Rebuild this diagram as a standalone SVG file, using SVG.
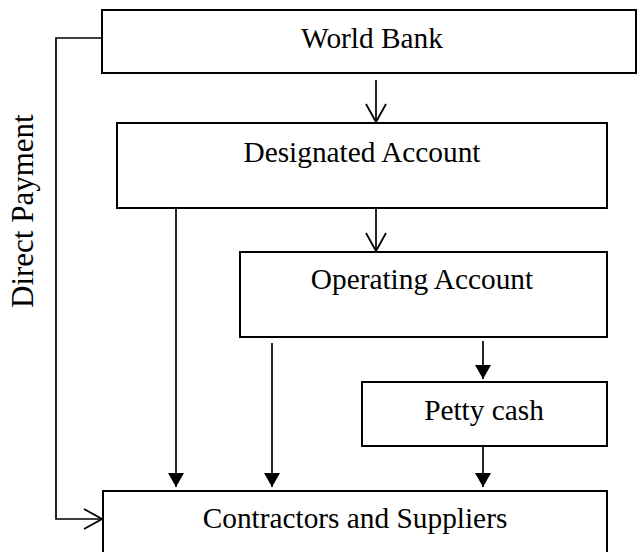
<svg xmlns="http://www.w3.org/2000/svg" width="638" height="552" viewBox="0 0 638 552">
<style>
  .box{fill:#fff;stroke:#000;stroke-width:2}
  .lbl{font-family:"Liberation Serif","Times New Roman",serif;font-size:29.33px;fill:#000}
  .edge{fill:none;stroke:#000;stroke-width:1.7}
</style>
<defs>
  <marker id="open" markerUnits="userSpaceOnUse" viewBox="0 0 20 22" refX="19" refY="11" markerWidth="20" markerHeight="22" orient="auto">
    <path d="M1,1 L19,11 L1,21" fill="none" stroke="#000" stroke-width="1.8"/>
  </marker>
  <marker id="solid" markerUnits="userSpaceOnUse" viewBox="0 0 14 16" refX="14" refY="8" markerWidth="14" markerHeight="16" orient="auto">
    <path d="M0,0 L14,8 L0,16 Z" fill="#000"/>
  </marker>
</defs>
<rect width="638" height="552" fill="#fff"/>
<g id="connectors">
  <line class="edge" x1="376" y1="80" x2="376" y2="122" marker-end="url(#open)"/>
  <line class="edge" x1="376" y1="208" x2="376" y2="251" marker-end="url(#open)"/>
  <line class="edge" x1="176" y1="208" x2="176" y2="487" marker-end="url(#solid)"/>
  <line class="edge" x1="272" y1="343" x2="272" y2="487" marker-end="url(#solid)"/>
  <line class="edge" x1="483" y1="341" x2="483" y2="379" marker-end="url(#solid)"/>
  <line class="edge" x1="483" y1="446" x2="483" y2="487" marker-end="url(#solid)"/>
  <polyline class="edge" points="102,38 56,38 56,519 102,519" marker-end="url(#open)"/>
  <text class="lbl" font-size="31" transform="translate(33,308) rotate(-90)" style="font-size:31px">Direct Payment</text>
</g>
<g id="world-bank">
  <rect class="box" x="102" y="10" width="534" height="63"/>
  <text class="lbl" x="372" y="48" text-anchor="middle">World Bank</text>
</g>
<g id="designated-account">
  <rect class="box" x="117" y="123" width="490" height="85"/>
  <text class="lbl" x="362" y="162" text-anchor="middle">Designated Account</text>
</g>
<g id="operating-account">
  <rect class="box" x="240" y="252" width="367" height="85"/>
  <text class="lbl" x="422" y="289" text-anchor="middle">Operating Account</text>
</g>
<g id="petty-cash">
  <rect class="box" x="362" y="382" width="245" height="64"/>
  <text class="lbl" x="484" y="420" text-anchor="middle">Petty cash</text>
</g>
<g id="contractors-suppliers">
  <rect class="box" x="103" y="491" width="504" height="70"/>
  <text class="lbl" x="355" y="528" text-anchor="middle">Contractors and Suppliers</text>
</g>
</svg>
